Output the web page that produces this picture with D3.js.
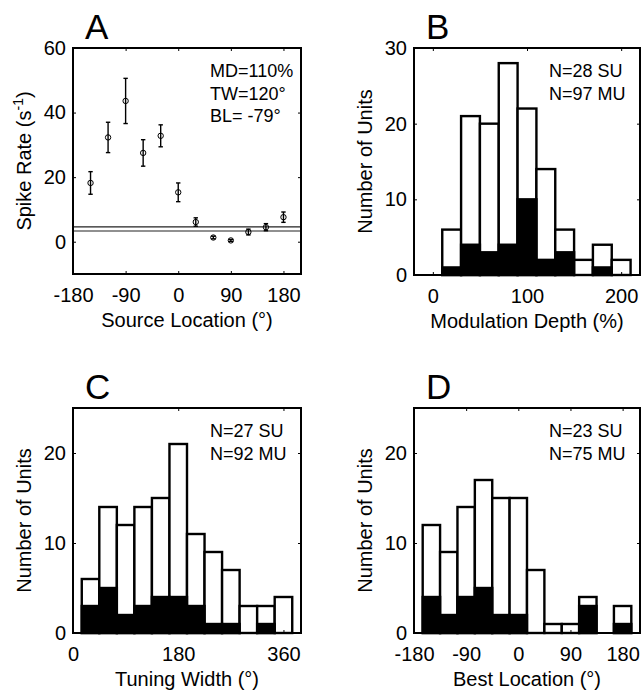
<!DOCTYPE html>
<html>
<head>
<meta charset="utf-8">
<script src="https://cdn.jsdelivr.net/npm/d3@7"></script>
<style>
	body { margin: 0; background: #fff; }
	svg { display: block; font-family: "Liberation Sans", Arial, sans-serif; }
</style>
</head>
<body>
<div id="figure"></div>
<script>
// A: tuning of one unit (mean +/- SE)
const locations = [-150, -120, -90, -60, -30, 0, 30, 60, 90, 120, 150, 180];
const spikeRate = [18.2, 32.3, 43.6, 27.5, 32.8, 15.3, 6.1, 1.3, 0.4, 3.0, 4.5, 7.6];
const spikeErr = [3.5, 4.7, 7.0, 4.1, 3.4, 2.9, 1.3, 0.4, 0.3, 0.9, 1.1, 1.6];
const baseline = [3.3, 4.6];
const statsA = ["MD=110%", "TW=120°", "BL= -79°"];

// B: modulation depth histogram
const depthBins = [0, 20, 40, 60, 80, 100, 120, 140, 160, 180, 200];
const depthAll = [0, 6, 21, 20, 28, 22, 14, 6, 2, 4, 2];
const depthSU = [0, 1, 4, 3, 4, 10, 2, 3, 0, 1, 0];
const statsB = ["N=28 SU", "N=97 MU"];

// C: tuning width histogram
const widthBins = [30, 60, 90, 120, 150, 180, 210, 240, 270, 300, 330, 360];
const widthAll = [6, 14, 12, 14, 15, 21, 11, 9, 7, 3, 3, 4];
const widthSU = [3, 5, 2, 3, 4, 4, 3, 1, 1, 0, 1, 0];
const statsC = ["N=27 SU", "N=92 MU"];

// D: best location histogram
const bestBins = [-150, -120, -90, -60, -30, 0, 30, 60, 90, 120, 150, 180];
const bestAll = [12, 9, 14, 17, 15, 15, 7, 1, 1, 4, 0, 3];
const bestSU = [4, 2, 4, 5, 2, 2, 0, 0, 0, 3, 0, 1];
const statsD = ["N=23 SU", "N=75 MU"];

const svg = d3.select("#figure").append("svg")
	.attr("width", 641)
	.attr("height", 691);

// one boxed panel, ticks inside on all four sides (matlab style)
function drawPanel(opt) {
	const x = d3.scaleLinear().domain(opt.xDomain).range([opt.left, opt.right]);
	const y = d3.scaleLinear().domain(opt.yDomain).range([opt.bottom, opt.top]);
	const g = svg.append("g");

	const fmt = d => String(d);
	const styleAxis = a => {
		a.select(".domain").remove();
		a.selectAll("line").attr("stroke", "#000").attr("stroke-width", 1);
		a.selectAll("text").attr("font-size", 20).attr("font-family", null).attr("fill", "#000");
	};

	g.append("g")
		.attr("transform", "translate(0," + opt.bottom + ")")
		.call(d3.axisBottom(x).tickValues(opt.xTicks).tickFormat(fmt).tickSize(-3).tickPadding(13.5))
		.call(styleAxis);
	g.append("g")
		.attr("transform", "translate(0," + opt.top + ")")
		.call(d3.axisTop(x).tickValues(opt.xTicks).tickFormat("").tickSize(-3))
		.call(styleAxis);
	g.append("g")
		.attr("transform", "translate(" + opt.left + ",0)")
		.call(d3.axisLeft(y).tickValues(opt.yTicks).tickFormat(fmt).tickSize(-3).tickPadding(7))
		.call(styleAxis);
	g.append("g")
		.attr("transform", "translate(" + opt.right + ",0)")
		.call(d3.axisRight(y).tickValues(opt.yTicks).tickFormat("").tickSize(-3))
		.call(styleAxis);

	// panel letter
	g.append("text")
		.attr("x", opt.left + 12)
		.attr("y", opt.top - 9)
		.attr("font-size", 35)
		.text(opt.letter);

	// x label
	g.append("text")
		.attr("x", (opt.left + opt.right) / 2)
		.attr("y", opt.bottom + 53)
		.attr("text-anchor", "middle")
		.attr("font-size", 20)
		.text(opt.xLabel);

	// y label
	const yl = g.append("text")
		.attr("transform", "translate(" + (opt.left - 42) + "," + ((opt.top + opt.bottom) / 2) + ") rotate(-90)")
		.attr("text-anchor", "middle")
		.attr("font-size", 20);
	if (opt.yLabelSup) {
		yl.append("tspan").text(opt.yLabel);
		yl.append("tspan").attr("dy", -8).attr("font-size", 14).text(opt.yLabelSup);
		yl.append("tspan").attr("dy", 8).text(")");
	} else {
		yl.text(opt.yLabel);
	}

	// stats text in upper right
	g.selectAll(".stat")
		.data(opt.stats)
		.enter().append("text")
		.attr("x", opt.right - 91)
		.attr("y", (d, i) => opt.top + 29 + i * 22.5)
		.attr("font-size", 18)
		.text(d => d);

	return { g: g, x: x, y: y, opt: opt };
}

function drawHistogram(panel, bins, all, su) {
	const { g, x, y } = panel;
	const step = bins[1] - bins[0];
	const marks = g.insert("g", ":first-child");

	marks.selectAll(".all")
		.data(bins)
		.enter().append("rect")
		.attr("x", d => x(d - step / 2))
		.attr("width", d => x(d + step / 2) - x(d - step / 2))
		.attr("y", (d, i) => y(all[i]))
		.attr("height", (d, i) => y(0) - y(all[i]))
		.attr("fill", "#fff")
		.attr("stroke", "#000")
		.attr("stroke-width", 2.4);

	marks.selectAll(".su")
		.data(bins.filter((d, i) => su[i] > 0))
		.enter().append("rect")
		.attr("x", d => x(d - step / 2))
		.attr("width", d => x(d + step / 2) - x(d - step / 2))
		.attr("y", d => y(su[bins.indexOf(d)]))
		.attr("height", d => y(0) - y(su[bins.indexOf(d)]))
		.attr("fill", "#000")
		.attr("stroke", "#000")
		.attr("stroke-width", 2.4);
}

function drawBox(panel) {
	const o = panel.opt;
	panel.g.append("rect")
		.attr("x", o.left)
		.attr("y", o.top)
		.attr("width", o.right - o.left)
		.attr("height", o.bottom - o.top)
		.attr("fill", "none")
		.attr("stroke", "#000")
		.attr("stroke-width", 2);
}

// ---- A ----
const pA = drawPanel({
	letter: "A", left: 73, right: 301, top: 48, bottom: 274,
	xDomain: [-180, 210], yDomain: [-10, 60],
	xTicks: [-180, -90, 0, 90, 180], yTicks: [0, 20, 40, 60],
	xLabel: "Source Location (°)", yLabel: "Spike Rate (s", yLabelSup: "-1",
	stats: statsA
});

pA.g.selectAll(".base")
	.data(baseline)
	.enter().append("line")
	.attr("x1", 73).attr("x2", 301)
	.attr("y1", d => pA.y(d)).attr("y2", d => pA.y(d))
	.attr("stroke", "#222")
	.attr("stroke-width", 1.1);

const pts = pA.g.selectAll(".pt")
	.data(locations)
	.enter().append("g");
pts.append("line")
	.attr("x1", d => pA.x(d)).attr("x2", d => pA.x(d))
	.attr("y1", (d, i) => pA.y(spikeRate[i] - spikeErr[i]))
	.attr("y2", (d, i) => pA.y(spikeRate[i] + spikeErr[i]))
	.attr("stroke", "#000").attr("stroke-width", 1.4);
[-1, 1].forEach(s => {
	pts.append("line")
		.attr("x1", d => pA.x(d) - 2.2).attr("x2", d => pA.x(d) + 2.2)
		.attr("y1", (d, i) => pA.y(spikeRate[i] + s * spikeErr[i]))
		.attr("y2", (d, i) => pA.y(spikeRate[i] + s * spikeErr[i]))
		.attr("stroke", "#000").attr("stroke-width", 1.4);
});
pts.append("circle")
	.attr("cx", d => pA.x(d))
	.attr("cy", (d, i) => pA.y(spikeRate[i]))
	.attr("r", 2.7)
	.attr("fill", "#fff")
	.attr("fill-opacity", 0)
	.attr("stroke", "#000")
	.attr("stroke-width", 1);
drawBox(pA);

// ---- B ----
const pB = drawPanel({
	letter: "B", left: 414, right: 640, top: 48, bottom: 275,
	xDomain: [-20, 220], yDomain: [0, 30],
	xTicks: [0, 100, 200], yTicks: [0, 10, 20, 30],
	xLabel: "Modulation Depth (%)", yLabel: "Number of Units",
	stats: statsB
});
drawHistogram(pB, depthBins, depthAll, depthSU);
drawBox(pB);

// ---- C ----
const pC = drawPanel({
	letter: "C", left: 73, right: 301, top: 408, bottom: 633,
	xDomain: [0, 390], yDomain: [0, 25],
	xTicks: [0, 180, 360], yTicks: [0, 10, 20],
	xLabel: "Tuning Width (°)", yLabel: "Number of Units",
	stats: statsC
});
drawHistogram(pC, widthBins, widthAll, widthSU);
drawBox(pC);

// ---- D ----
const pD = drawPanel({
	letter: "D", left: 414, right: 640, top: 408, bottom: 633,
	xDomain: [-180, 210], yDomain: [0, 25],
	xTicks: [-180, -90, 0, 90, 180], yTicks: [0, 10, 20],
	xLabel: "Best Location (°)", yLabel: "Number of Units",
	stats: statsD
});
drawHistogram(pD, bestBins, bestAll, bestSU);
drawBox(pD);
</script>
</body>
</html>
